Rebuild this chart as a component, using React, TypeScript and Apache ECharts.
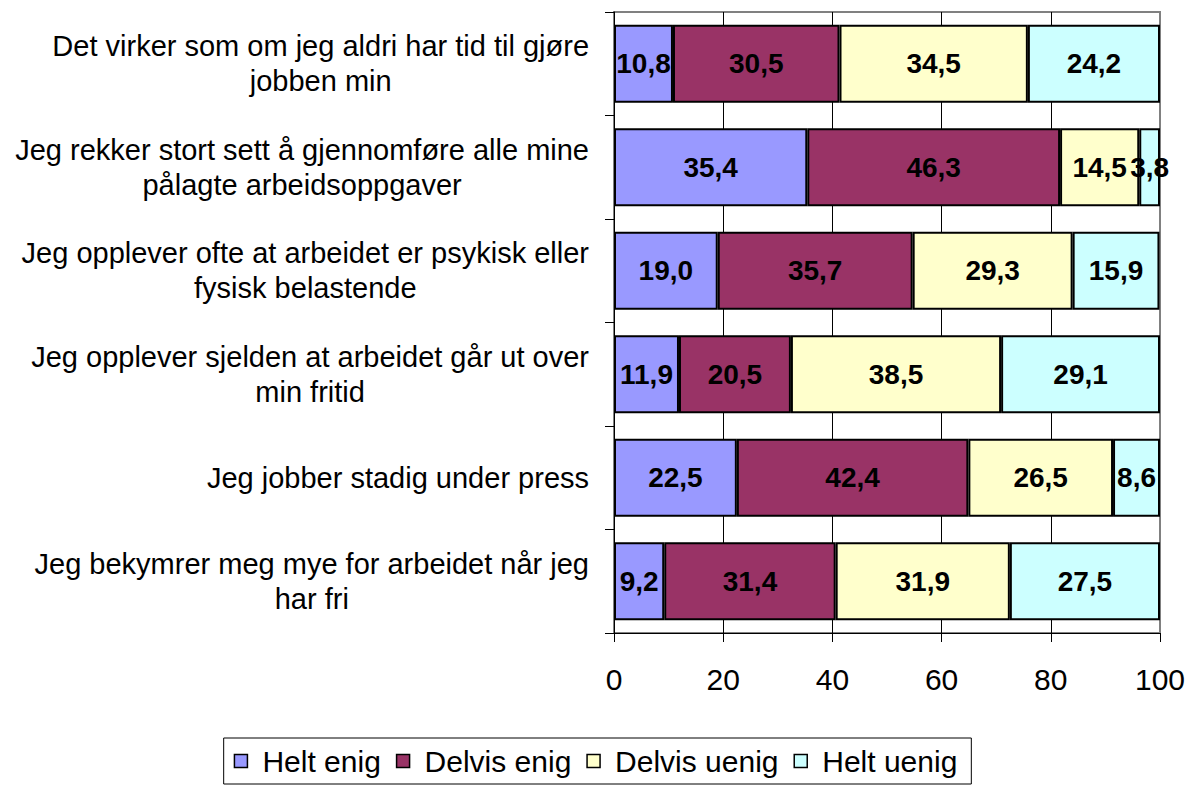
import React, { useEffect, useRef } from "react";
import * as echarts from "echarts";

const categories = [
  "Det virker som om jeg aldri har tid til gjøre\njobben min",
  "Jeg rekker stort sett å gjennomføre alle mine\npålagte arbeidsoppgaver",
  "Jeg opplever ofte at arbeidet er psykisk eller\nfysisk belastende",
  "Jeg opplever sjelden at arbeidet går ut over\nmin fritid",
  "Jeg jobber stadig under press",
  "Jeg bekymrer meg mye for arbeidet når jeg\nhar fri",
];

const seriesNames = ["Helt enig", "Delvis enig", "Delvis uenig", "Helt uenig"];
const heltEnig = [10.8, 35.4, 19.0, 11.9, 22.5, 9.2];
const delvisEnig = [30.5, 46.3, 35.7, 20.5, 42.4, 31.4];
const delvisUenig = [34.5, 14.5, 29.3, 38.5, 26.5, 31.9];
const heltUenig = [24.2, 3.8, 15.9, 29.1, 8.6, 27.5];
const seriesColors = ["#9999FF", "#993366", "#FFFFCC", "#CCFFFF"];

const xTicks = { min: 0, max: 100, interval: 20 };

const FONT = "'Liberation Sans', Arial, sans-serif";

export default function App() {
  const ref = useRef<HTMLDivElement>(null);

  useEffect(() => {
    if (!ref.current) return;
    const chart = echarts.init(ref.current, null, { renderer: "svg" });
    const data = [heltEnig, delvisEnig, delvisUenig, heltUenig];
    const option = {
      animation: false,
      backgroundColor: "#ffffff",
      textStyle: { fontFamily: FONT },
      grid: {
        left: 614,
        right: 31,
        top: 12,
        bottom: 152,
        show: true,
        borderColor: "#808080",
        borderWidth: 2,
        backgroundColor: "transparent",
      },
      legend: {
        data: seriesNames,
        left: "center",
        top: 738,
        orient: "horizontal",
        borderColor: "#000",
        borderWidth: 1,
        borderRadius: 0,
        padding: [8, 14, 8, 10],
        itemWidth: 13,
        itemHeight: 13,
        itemGap: 15,
        icon: "rect",
        itemStyle: { borderColor: "#000", borderWidth: 1.5 },
        textStyle: {
          fontFamily: FONT,
          fontSize: 30,
          color: "#000",
          padding: [0, 0, 0, 10],
        },
      },
      xAxis: {
        type: "value",
        min: xTicks.min,
        max: xTicks.max,
        interval: xTicks.interval,
        axisLine: { show: true, lineStyle: { color: "#000", width: 1 } },
        axisTick: { show: true, length: 9, lineStyle: { color: "#000" } },
        axisLabel: {
          fontFamily: FONT,
          fontSize: 30,
          color: "#000",
          margin: 31,
        },
        splitLine: {
          show: true,
          showMinLine: false,
          showMaxLine: false,
          lineStyle: { color: "#000", width: 1 },
        },
      },
      yAxis: {
        type: "category",
        data: categories,
        inverse: true,
        axisLine: { show: true, lineStyle: { color: "#000", width: 1 } },
        axisTick: { show: true, length: 9, lineStyle: { color: "#000" } },
        axisLabel: {
          margin: 25,
          align: "right",
          formatter: (v: string) =>
            v
              .split("\n")
              .map((l) => `{c|${l}}`)
              .join("\n"),
          rich: {
            c: {
              align: "center",
              fontFamily: FONT,
              fontSize: 29,
              lineHeight: 35,
              color: "#000",
            },
          },
        },
        splitLine: { show: false },
      },
      series: seriesNames.map((name, i) => ({
        name,
        type: "bar",
        stack: "total",
        barWidth: 78,
        data: data[i],
        itemStyle: {
          color: seriesColors[i],
          borderColor: "#000",
          borderWidth: 2,
        },
        label: {
          show: true,
          position: "inside",
          fontFamily: FONT,
          fontSize: 28,
          fontWeight: "bold",
          color: "#000",
          formatter: (p: any) => Number(p.value).toFixed(1).replace(".", ","),
        },
        emphasis: { disabled: true },
      })),
    };
    chart.setOption(option as any);
    return () => chart.dispose();
  }, []);

  return (
    <div
      ref={ref}
      style={{ position: "fixed", left: 0, top: 0, width: 1191, height: 785 }}
    />
  );
}
